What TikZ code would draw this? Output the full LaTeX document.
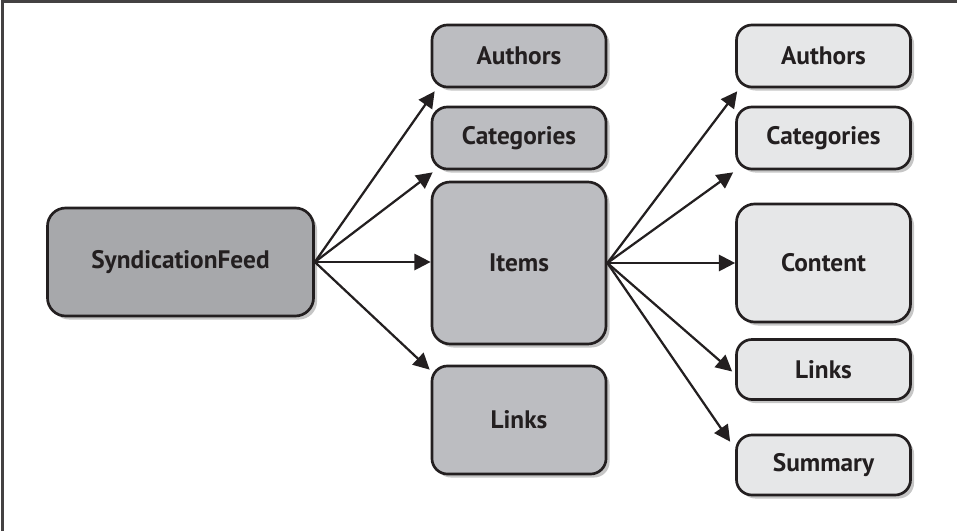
\documentclass[tikz,border=0pt]{standalone}
\usepackage{fontspec}
\setmainfont{PT Sans}
\usetikzlibrary{arrows.meta,shadows}

\definecolor{feedgray}{RGB}{167,168,171}
\definecolor{midgray}{RGB}{188,189,193}
\definecolor{lightgray}{RGB}{230,231,232}
\definecolor{inkdark}{RGB}{35,31,32}

\tikzset{
	box/.style={draw=inkdark, line width=1.9pt, rounded corners=11pt,
		font=\fontsize{18}{21}\selectfont\bfseries, text=inkdark,
		inner sep=0pt, minimum width=4.35cm,
		drop shadow={shadow xshift=2.5pt, shadow yshift=-2.5pt, opacity=0.45}},
	feedbox/.style={box, fill=feedgray, minimum width=6.65cm, minimum height=2.7cm, rounded corners=13pt},
	midbox/.style={box, fill=midgray},
	leafbox/.style={box, fill=lightgray},
	link/.style={draw=inkdark, line width=1.6pt, -{Triangle[length=11.5pt,width=11.5pt]}}
}

\begin{document}
\begin{tikzpicture}[x=0.025cm, y=-0.025cm]

\useasboundingbox (0,0) rectangle (957,531);

% frame, only top and left edge show
\draw [line width=1.6pt, inkdark!85] (2.5,531) -- (2.5,1.5) -- (957,1.5);

\node [feedbox] (feed) at (180.5,262) {SyndicationFeed};

\node [midbox, minimum height=1.55cm] (authA) at (519,56) {Authors};
\node [midbox, minimum height=1.55cm] (catA) at (519,138) {Categories};
\node [midbox, minimum height=4.05cm, rounded corners=13pt] (items) at (519,263) {Items};
\node [midbox, minimum height=2.7cm] (linksA) at (519,420) {Links};

\node [leafbox, minimum height=1.55cm] (authB) at (823.5,56) {Authors};
\node [leafbox, minimum height=1.55cm] (catB) at (823.5,138) {Categories};
\node [leafbox, minimum height=2.95cm, rounded corners=13pt] (content) at (823.5,263) {Content};
\node [leafbox, minimum height=1.5cm] (linksB) at (823.5,369.5) {Links};
\node [leafbox, minimum height=1.5cm] (summary) at (823.5,465) {Summary};

%\foreach \t in {authA,catA,items,linksA} {
%	\draw [link] (feed.east) -- (\t.west);
%}

\draw [link] (feed.east) -- ([shift={(4,3)}]authA.south west);
\draw [link] (feed.east) -- ([shift={(2,2)}]catA.south west);
\draw [link] (feed.east) -- (feed.east -| items.west);
\draw [link] (feed.east) -- ([shift={(-1,5)}]linksA.north west);

\draw [link] (items.east) -- ([shift={(2,3)}]authB.south west);
\draw [link] (items.east) -- ([shift={(-2,2)}]catB.south west);
\draw [link] (items.east) -- (items.east -| content.west);
\draw [link] (items.east) -- ([shift={(-3,2)}]linksB.west);
\draw [link] (items.east) -- ([shift={(-5,8)}]summary.north west);

\end{tikzpicture}
\end{document}
